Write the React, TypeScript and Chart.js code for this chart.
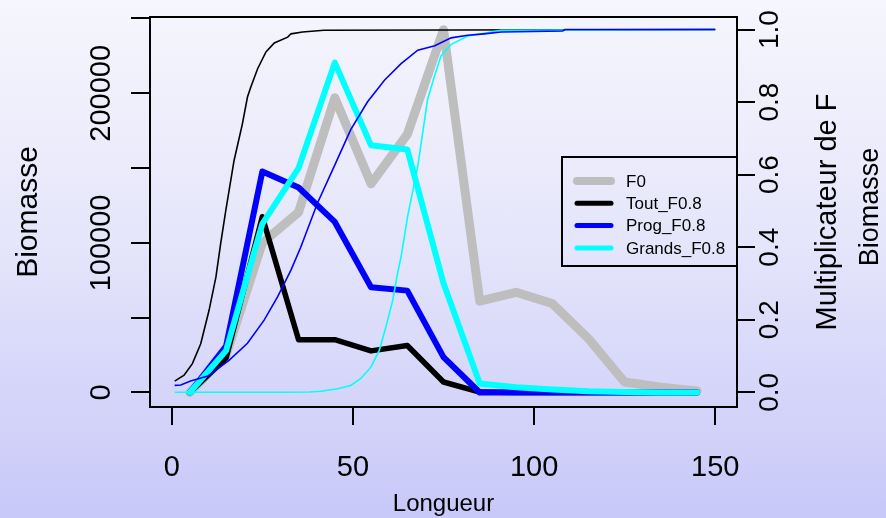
import React, { useEffect, useRef } from 'react';
import { Chart, registerables } from 'chart.js';

Chart.register(...registerables);

// ---------- data ----------
const lengths = [5, 15, 25, 35, 45, 55, 65, 75, 85, 95, 105, 115, 125, 135, 145];
const biomF0 = [0, 25000, 100000, 120500, 197000, 139500, 172500, 242500, 61000, 67000, 59500, 36000, 7000, 3500, 1000];
const biomTout = [0, 23000, 117500, 35300, 35300, 27800, 31400, 7000, 300, 0, 0, 0, 0, 0, 0];
const biomProg = [0, 31000, 147700, 137000, 114000, 70300, 68100, 23600, 0, 0, 0, 0, 0, 0, 0];
const biomGrands = [0, 28000, 112700, 150000, 220500, 165200, 162500, 73000, 6000, 3500, 2000, 800, 300, 0, 0];

const multToutX = [0.8, 3.4, 5.7, 8.0, 10.3, 12.2, 13.5, 14.9, 17.2, 19.5, 20.9, 21.8, 23.7, 26, 28.3, 32, 32.9, 36.1, 42, 150];
const multToutF = [0.031, 0.047, 0.079, 0.134, 0.226, 0.318, 0.41, 0.5, 0.639, 0.74, 0.814, 0.841, 0.892, 0.938, 0.963, 0.979, 0.988, 0.993, 0.998, 1.0];

const multProgX = [0.8, 2.5, 5.2, 10, 15.8, 20.9, 25.5, 29.2, 32.9, 35.6, 40.2, 44.8, 49.4, 54.0, 58.7, 63.3, 67.9, 72.6, 77.1, 81.7, 86.2, 90.9, 107.9, 108.5, 150];
const multProgF = [0.019, 0.02, 0.031, 0.045, 0.088, 0.135, 0.199, 0.263, 0.337, 0.4, 0.521, 0.622, 0.724, 0.8, 0.86, 0.906, 0.943, 0.955, 0.977, 0.984, 0.988, 0.993, 0.996, 1.0, 1.0];

const multGrandsX = [0.8, 30, 38, 41.2, 45.8, 49.4, 52.2, 55, 57.3, 59.1, 61, 62.3, 63.3, 65.1, 67.9, 70.6, 72.5, 74.3, 77.1, 81.7, 85.4, 90.9, 150];
const multGrandsF = [0, 0, 0.001, 0.003, 0.01, 0.019, 0.038, 0.07, 0.116, 0.18, 0.254, 0.327, 0.374, 0.485, 0.623, 0.807, 0.871, 0.927, 0.959, 0.982, 0.988, 0.998, 1.0];

const xTicks = [0, 50, 100, 150];
const xTickLabels = ['0', '50', '100', '150'];
const yTicks = [0, 50000, 100000, 150000, 200000, 250000];
const yLabelValues = [0, 100000, 200000];
const yTickLabels = ['0', '100000', '200000'];
const y2Ticks = [0, 0.2, 0.4, 0.6, 0.8, 1.0];
const y2TickLabels = ['0.0', '0.2', '0.4', '0.6', '0.8', '1.0'];

const legendLabels = ['F0', 'Tout_F0.8', 'Prog_F0.8', 'Grands_F0.8'];
const legendColors = ['#bebebe', '#000000', '#0000ff', '#00ffff'];
const legendWidths = [8, 5, 5, 5];

const FONT = '"Liberation Sans", Arial, Helvetica, sans-serif';

const pts = (xs: number[], ys: number[]) => xs.map((x, i) => ({ x, y: ys[i] }));

function rotText(ctx: CanvasRenderingContext2D, text: string, cx: number, cy: number) {
  ctx.save();
  ctx.translate(cx, cy);
  ctx.rotate(-Math.PI / 2);
  ctx.textAlign = 'center';
  ctx.textBaseline = 'middle';
  ctx.fillText(text, 0, 0);
  ctx.restore();
}

const rAxesPlugin = {
  id: 'rAxes',
  afterDatasetsDraw(chart: any) {
    const { ctx, chartArea: ca, scales } = chart;
    const sx = scales.x, sy = scales.y, sy2 = scales.y2;
    ctx.save();
    ctx.strokeStyle = '#000';
    ctx.fillStyle = '#000';
    ctx.lineWidth = 2;
    ctx.lineCap = 'butt';
    // box
    ctx.strokeRect(ca.left, ca.top, ca.right - ca.left, ca.bottom - ca.top);
    // x axis
    ctx.beginPath();
    xTicks.forEach((v) => {
      const px = Math.round(sx.getPixelForValue(v));
      ctx.moveTo(px, ca.bottom);
      ctx.lineTo(px, ca.bottom + 18);
    });
    ctx.stroke();
    ctx.font = `29px ${FONT}`;
    ctx.textAlign = 'center';
    ctx.textBaseline = 'middle';
    xTicks.forEach((v, i) => {
      ctx.fillText(xTickLabels[i], sx.getPixelForValue(v), 468);
    });
    ctx.font = `24px ${FONT}`;
    ctx.fillText('Longueur', (ca.left + ca.right) / 2, 504);
    // left axis
    ctx.beginPath();
    yTicks.forEach((v) => {
      const py = Math.round(sy.getPixelForValue(v));
      ctx.moveTo(ca.left, py);
      ctx.lineTo(ca.left - 19, py);
    });
    ctx.stroke();
    ctx.font = `29px ${FONT}`;
    yLabelValues.forEach((v, i) => rotText(ctx, yTickLabels[i], 102, sy.getPixelForValue(v)));
    ctx.font = `30px ${FONT}`;
    rotText(ctx, 'Biomasse', 29, (ca.top + ca.bottom) / 2);
    // right axis
    ctx.beginPath();
    y2Ticks.forEach((v) => {
      const py = Math.round(sy2.getPixelForValue(v));
      ctx.moveTo(ca.right, py);
      ctx.lineTo(ca.right + 18, py);
    });
    ctx.stroke();
    ctx.font = `28px ${FONT}`;
    y2Ticks.forEach((v, i) => rotText(ctx, y2TickLabels[i], 770, sy2.getPixelForValue(v)));
    ctx.font = `29px ${FONT}`;
    rotText(ctx, 'Multiplicateur de F', 828, (ca.top + ca.bottom) / 2);
    ctx.font = `27px ${FONT}`;
    rotText(ctx, 'Biomasse', 871, 207);
    // legend
    const lx0 = 562, ly0 = 157, lx1 = ca.right, ly1 = 266;
    ctx.lineWidth = 2;
    ctx.strokeRect(lx0, ly0, lx1 - lx0, ly1 - ly0);
    ctx.font = `17px ${FONT}`;
    ctx.textAlign = 'left';
    ctx.textBaseline = 'middle';
    legendLabels.forEach((lab, i) => {
      const yy = 181 + i * 22.3;
      ctx.save();
      ctx.strokeStyle = legendColors[i];
      ctx.lineWidth = legendWidths[i];
      ctx.lineCap = 'round';
      ctx.beginPath();
      ctx.moveTo(577, yy);
      ctx.lineTo(611, yy);
      ctx.stroke();
      ctx.restore();
      ctx.fillText(lab, 626, yy + 1);
    });
    ctx.restore();
  },
};

export default function App() {
  const ref = useRef<HTMLCanvasElement>(null);
  useEffect(() => {
    document.body.style.margin = '0';
    const thick = (label: string, data: number[], color: string, w: number) => ({
      label,
      data: pts(lengths, data),
      borderColor: color,
      backgroundColor: color,
      borderWidth: w,
      pointRadius: 0,
      tension: 0,
      borderCapStyle: 'round' as const,
      borderJoinStyle: 'round' as const,
      yAxisID: 'y',
    });
    const thin = (label: string, xs: number[], ys: number[], color: string) => ({
      label,
      data: pts(xs, ys),
      borderColor: color,
      backgroundColor: color,
      borderWidth: 1.6,
      pointRadius: 0,
      tension: 0,
      yAxisID: 'y2',
    });
    const chart = new Chart(ref.current as HTMLCanvasElement, {
      type: 'line',
      data: {
        datasets: [
          thin('multProg', multProgX, multProgF, '#0000ff'),
          thin('multGrands', multGrandsX, multGrandsF, '#00ffff'),
          thin('multTout', multToutX, multToutF, '#000000'),
          thick('Grands_F0.8', biomGrands, '#00ffff', 6),
          thick('Prog_F0.8', biomProg, '#0000ff', 6),
          thick('Tout_F0.8', biomTout, '#000000', 5.5),
          thick('F0', biomF0, '#bebebe', 9),
        ] as any,
      },
      options: {
        animation: false,
        responsive: false,
        devicePixelRatio: 1,
        layout: { padding: { left: 150, right: 149, top: 17, bottom: 111 } },
        plugins: { legend: { display: false }, tooltip: { enabled: false } },
        scales: {
          x: { type: 'linear', min: -6, max: 156, display: false },
          y: { type: 'linear', min: -9700, max: 251000, display: false },
          y2: { type: 'linear', position: 'right', min: -0.0405, max: 1.0345, display: false },
        },
      },
      plugins: [rAxesPlugin],
    });
    return () => chart.destroy();
  }, []);
  return (
    <div style={{ width: 886, height: 518 }}>
      <canvas
        ref={ref}
        width={886}
        height={518}
        style={{
          display: 'block',
          width: 886,
          height: 518,
          background: 'linear-gradient(to bottom, #f6f6fd 0%, #e6e6fb 45%, #c8c8f9 100%)',
        }}
      />
    </div>
  );
}
